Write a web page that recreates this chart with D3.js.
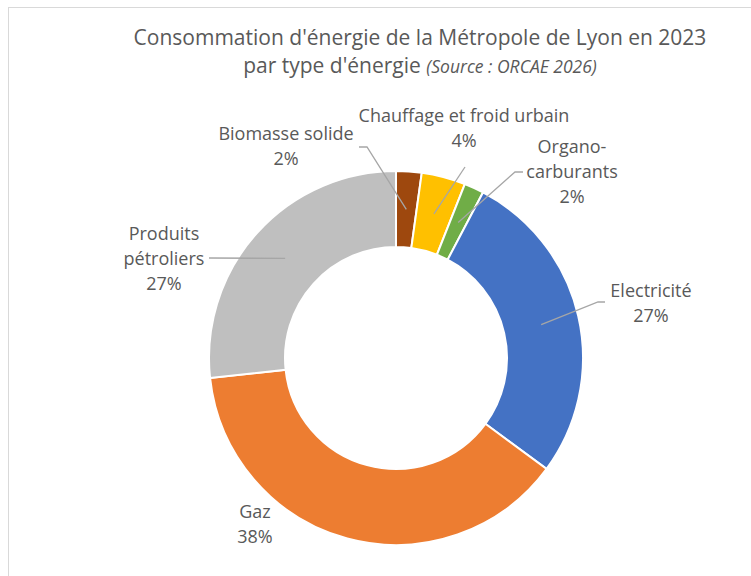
<!DOCTYPE html>
<html>
<head>
<meta charset="utf-8">
<script src="https://cdn.jsdelivr.net/npm/d3@7"></script>
<style>
  body { margin: 0; background: #fff; }
  svg text { font-family: "Open Sans", Lato, sans-serif; fill: #595959; }
</style>
</head>
<body>
<div class="canvas"></div>
<script>
// data (shares in %)
const categories = ['Biomasse solide', 'Chauffage et froid urbain', 'Organo-carburants',
    'Electricité', 'Gaz', 'Produits pétroliers'];
const shares = [2.2, 3.8, 1.7, 27.4, 38.2, 26.7];
const labelLines = [['Biomasse solide'], ['Chauffage et froid urbain'], ['Organo-', 'carburants'],
    ['Electricité'], ['Gaz'], ['Produits', 'pétroliers']];
const colours = ['#9E480E', '#FFC000', '#70AD47', '#4472C4', '#ED7D31', '#BFBFBF'];

const width = 751, height = 576;
const cx = 396, cy = 358;
const rOuter = 187, rInner = 111;

// label layout: text centre x, first baseline y, leader start and optional elbow
const labelLayout = [
    { x: 286, y: 140, from: [359, 147], elbow: [367, 147] },
    { x: 464, y: 122, from: [465, 167] },
    { x: 572, y: 153, from: [523, 172], elbow: [515, 172] },
    { x: 651, y: 297, from: [605, 302], elbow: [598, 302] },
    { x: 255, y: 518, from: null },
    { x: 164, y: 240, from: [209, 258] }
];

const svg = d3.select('.canvas').append('svg')
    .attr('width', width)
    .attr('height', height);

// chart frame
svg.append('rect')
    .attr('x', 8.5).attr('y', 7.5)
    .attr('width', 800).attr('height', 700)
    .attr('fill', 'none')
    .attr('stroke', '#D9D9D9');

// title
svg.append('text')
    .attr('text-anchor', 'middle')
    .attr('x', 420)
    .attr('y', 45)
    .style('font-size', '21px')
    .text("Consommation d'énergie de la Métropole de Lyon en 2023");
const t2 = svg.append('text')
    .attr('text-anchor', 'middle')
    .attr('x', 420)
    .attr('y', 73)
    .style('font-size', '21px');
t2.append('tspan').text("par type d'énergie ");
t2.append('tspan').text('(Source : ORCAE 2026)')
    .style('font-size', '17.5px')
    .style('font-style', 'italic');

const pie = d3.pie().sort(null).value(d => d)(shares);
const arc = d3.arc().innerRadius(rInner).outerRadius(rOuter);

const g = svg.append('g').attr('transform', `translate(${cx},${cy})`);

g.selectAll('path')
    .data(pie)
    .enter().append('path')
    .attr('d', arc)
    .attr('fill', (d, i) => colours[i])
    .attr('stroke', '#fff')
    .attr('stroke-width', 2);

// leader lines to slice centroids
pie.forEach((d, i) => {
    const lay = labelLayout[i];
    if (!lay.from) return;
    const c = arc.centroid(d);
    const pts = [lay.from];
    if (lay.elbow) pts.push(lay.elbow);
    pts.push([c[0] + cx, c[1] + cy]);
    svg.append('path')
        .attr('d', d3.line()(pts))
        .attr('fill', 'none')
        .attr('stroke', '#A6A6A6')
        .attr('stroke-width', 1.3);
});

// labels
const fmt = v => Math.round(v) + '%';
pie.forEach((d, i) => {
    const lay = labelLayout[i];
    const lines = labelLines[i].concat([fmt(d.value)]);
    const txt = svg.append('text')
        .attr('text-anchor', 'middle')
        .style('font-size', '18px');
    lines.forEach((l, j) => {
        txt.append('tspan')
            .attr('x', lay.x)
            .attr('y', lay.y + j * 25)
            .text(l);
    });
});
</script>
</body>
</html>
